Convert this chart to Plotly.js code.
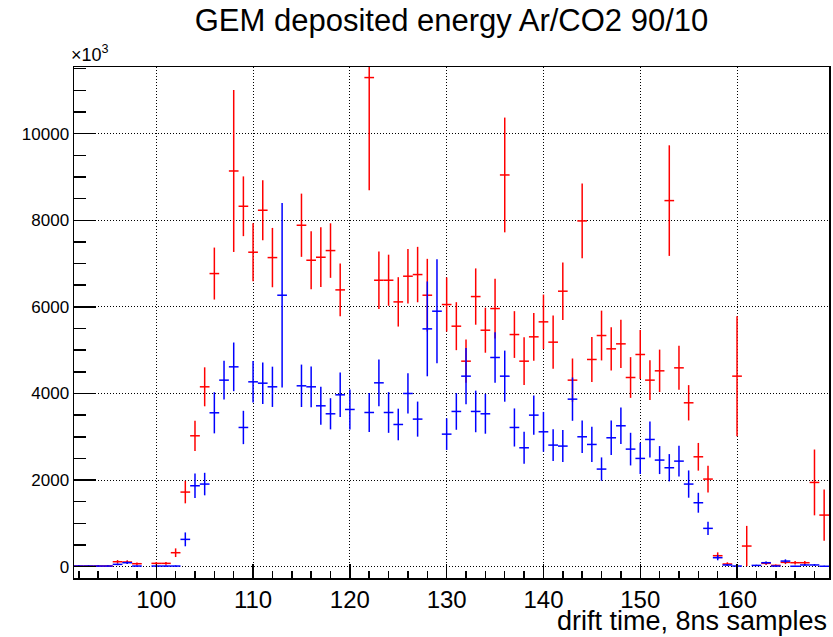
<!DOCTYPE html>
<html>
<head>
<meta charset="utf-8">
<script src="https://cdn.plot.ly/plotly-3.0.1.min.js"></script>
<style>html,body{margin:0;padding:0;background:#fff;}#chart{width:833px;height:637px;}</style>
</head>
<body>
<div id="chart"></div>
<script>
// drift time bins (8 ns samples)
const driftTime = [92,93,94,95,96,97,98,99,100,101,102,103,104,105,106,107,108,109,110,111,112,113,114,115,116,117,118,119,120,121,122,123,124,125,126,127,128,129,130,131,132,133,134,135,136,137,138,139,140,141,142,143,144,145,146,147,148,149,150,151,152,153,154,155,156,157,158,159,160,161,162,163,164,165,166,167,168,169];

// red series
const redValues = [15,15,15,15,115,108,69,null,77,77,323,1723,3023,4154,6769,null,9138,8323,7262,8231,7138,null,null,7885,7077,7146,7300,6392,null,null,11295,6615,6615,6115,6708,6746,6269,null,6054,5554,4746,6238,5461,5961,9046,5361,4746,5308,5654,5185,6362,4308,7985,4785,5338,5031,5146,4369,4900,4308,4523,8454,4592,3785,2538,2023,254,62,4400,477,null,77,30,100,92,92,1946,1192];
const redErrors = [10,10,10,10,40,40,30,0,30,30,100,260,350,450,600,0,1870,690,670,690,685,0,0,730,670,690,630,610,0,0,2600,665,590,570,630,640,840,0,625,554,500,650,520,690,1325,540,550,550,630,615,665,500,865,520,575,500,555,470,565,460,490,1277,508,408,320,308,77,40,1385,465,0,40,20,40,40,40,760,590];

// blue series
const blueValues = [15,15,15,15,54,92,15,null,15,15,15,631,1869,1908,3554,4308,4615,3215,4269,4238,4154,6269,null,4177,4154,3715,3531,3969,3631,null,3561,4246,3561,3284,4000,3408,5492,5900,3061,3585,4400,3585,3531,4831,4400,3215,2746,3500,3115,2808,2785,3869,3000,2823,2254,2977,3254,2715,2500,2938,2462,2285,2438,1908,1477,885,208,40,15,null,30,92,15,130,10,40,40,10];
const blueErrors = [10,10,10,10,20,30,10,0,10,10,10,160,285,260,475,446,562,385,480,480,465,2130,0,490,470,440,360,515,460,0,450,540,470,365,465,405,1095,1200,365,423,650,480,460,585,590,440,370,455,460,365,370,500,377,408,270,400,423,377,360,415,323,315,354,315,230,154,60,20,10,0,15,30,10,40,10,20,20,10];

const binHalfWidth = driftTime.map(() => 0.5);

const yTickVals = [0,2000,4000,6000,8000,10000];
const xTickVals = [100,110,120,130,140,150,160];

function series(vals, errs, color) {
  return {
    type: 'scatter',
    mode: 'markers',
    x: driftTime,
    y: vals,
    marker: {size: 1, color: color},
    error_x: {type: 'data', array: binHalfWidth, visible: true, color: color, thickness: 1.5, width: 0},
    error_y: {type: 'data', array: errs, visible: true, color: color, thickness: 1.5, width: 0},
    hoverinfo: 'x+y',
    showlegend: false,
    cliponaxis: true
  };
}

const traces = [
  series(redValues, redErrors, '#ff0000'),
  series(blueValues, blueErrors, '#0000ff')
];

const font = {family: '"Liberation Sans", Arial, sans-serif', color: '#000'};

const layout = {
  width: 833, height: 637,
  margin: {l: 74, r: 4, t: 67, b: 59},
  paper_bgcolor: '#fff', plot_bgcolor: '#fff',
  font: font,
  title: {text: 'GEM deposited energy Ar/CO2 90/10', font: {family: font.family, size: 31, color: '#000'},
          xref: 'paper', x: 0.5, xanchor: 'center', yref: 'container', y: 0.968, yanchor: 'middle'},
  xaxis: {
    range: [91.5, 169.5], tickmode: 'array', tickvals: xTickVals, ticktext: xTickVals.map(String),
    ticks: 'inside', ticklen: 14, tickwidth: 1.5, tickcolor: '#000',
    minor: {ticks: 'inside', ticklen: 7, dtick: 2, tick0: 0, tickcolor: '#000', tickwidth: 1.5, showgrid: false},
    showgrid: true, gridcolor: '#000', gridwidth: 1, griddash: '1px,2px',
    zeroline: false, showline: true, linecolor: '#000', linewidth: 1.5, mirror: true,
    tickfont: {family: font.family, size: 24, color: '#000'}
  },
  yaxis: {
    range: [-261, 11539], tickmode: 'array', tickvals: yTickVals, ticktext: yTickVals.map(String),
    ticks: 'inside', ticklen: 22, tickwidth: 1.5, tickcolor: '#000',
    minor: {ticks: 'inside', ticklen: 12, dtick: 500, tick0: 0, tickcolor: '#000', tickwidth: 1.5, showgrid: false},
    showgrid: true, gridcolor: '#000', gridwidth: 1, griddash: '1px,2px',
    zeroline: false, showline: true, linecolor: '#000', linewidth: 1.5, mirror: true,
    tickfont: {family: font.family, size: 17, color: '#000'}
  },
  annotations: [
    {text: 'drift time, 8ns samples', xref: 'paper', yref: 'paper', x: 1, y: -0.085,
     xanchor: 'right', yanchor: 'middle', showarrow: false, font: {family: font.family, size: 27, color: '#000'}},
    {text: '×10<sup>3</sup>', xref: 'paper', yref: 'paper', x: -0.006, y: 1.0, xanchor: 'left', yanchor: 'bottom',
     showarrow: false, font: {family: font.family, size: 18, color: '#000'}}
  ]
};

Plotly.newPlot('chart', traces, layout, {displayModeBar: false, staticPlot: true});
</script>
</body>
</html>
